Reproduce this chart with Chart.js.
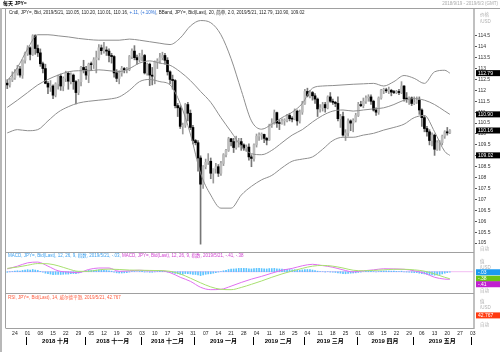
<!DOCTYPE html>
<html>
<head>
<meta charset="utf-8">
<script src="https://cdn.jsdelivr.net/npm/chart.js@4.4.0/dist/chart.umd.min.js"></script>
<style>
  html, body { margin: 0; padding: 0; background: #fff; }
  #wrap { width: 500px; height: 352px; }
</style>
</head>
<body>
<div id="wrap"><canvas id="c" width="500" height="352"></canvas></div>
<script>
// trading days on the axis (weekdays 2018/9/19 - 2019/6/3)
const days = [];
for (let d = new Date(Date.UTC(2018, 8, 19)); d <= new Date(Date.UTC(2019, 5, 3)); d.setUTCDate(d.getUTCDate() + 1)) {
    const w = d.getUTCDay();
    if (w !== 0 && w !== 6) days.push(d.toISOString().slice(0, 10));
}

// daily candles, one row per week
const open = [
    112.33,112.25,112.48,
    112.58,112.80,112.98,112.70,113.38,
    113.70,113.95,113.65,114.50,113.92,
    113.72,113.22,113.00,112.32,112.15,
    112.20,111.78,112.30,112.65,112.20,
    112.55,112.78,112.42,112.70,112.40,
    111.90,112.40,113.05,112.95,112.70,
    113.20,113.18,113.40,113.50,113.95,
    113.82,113.85,113.80,113.60,113.55,
    112.80,112.55,112.80,113.00,112.95,
    112.95,113.55,113.80,113.50,113.40,
    113.55,113.60,112.80,113.20,112.70,
    112.65,113.30,113.35,113.50,113.60,
    113.38,112.85,112.50,112.45,111.30,
    111.20,110.35,110.40,111.35,110.95,
    110.30,109.70,109.60,108.90,107.70,
    108.50,108.70,108.75,108.20,108.40,
    108.50,108.20,108.65,109.05,109.25,
    109.78,109.65,109.38,109.60,109.65,
    109.50,109.35,109.40,108.95,108.88,
    109.50,109.90,109.95,109.98,109.80,
    109.72,110.40,110.50,110.98,110.50,
    110.48,110.60,110.62,110.85,110.70,
    110.68,111.05,110.60,111.00,111.40,
    111.95,111.75,111.90,111.75,111.60,
    111.15,111.20,111.35,111.20,111.70,
    111.50,111.45,111.40,110.70,110.80,
    109.95,110.05,110.60,110.50,110.62,
    110.85,111.35,111.30,111.50,111.65,
    111.70,111.50,111.10,111.00,111.65,
    112.00,112.02,111.98,112.00,111.92,
    111.90,111.95,111.90,112.20,111.62,
    111.60,111.65,111.40,111.45,111.55,
    111.10,110.75,110.25,110.10,109.70,
    109.95,109.30,109.60,109.60,109.90,
    110.10,110.05
];
const high = [
    112.49,112.56,112.85,
    112.95,113.15,113.10,113.40,113.75,
    114.05,114.00,114.55,114.55,114.08,
    113.90,113.30,113.20,112.40,112.45,
    112.25,112.35,112.70,112.75,112.62,
    112.88,112.85,112.80,112.75,112.45,
    112.50,113.10,113.38,113.10,113.25,
    113.30,113.50,113.80,114.10,114.08,
    114.20,114.00,113.90,113.70,113.60,
    112.95,112.90,113.10,113.05,113.05,
    113.60,113.90,114.05,113.62,113.70,
    113.85,113.65,113.25,113.25,113.05,
    113.35,113.45,113.70,113.75,113.70,
    113.50,112.90,112.70,112.50,111.40,
    111.30,110.50,111.40,111.45,111.10,
    110.40,109.75,109.70,109.00,108.55,
    108.85,109.10,108.90,108.40,108.65,
    108.60,108.75,109.10,109.30,109.85,
    109.80,109.80,109.90,109.80,109.80,
    109.55,109.50,109.55,109.05,109.55,
    110.00,110.05,110.05,110.00,109.85,
    110.45,110.70,111.10,111.00,110.65,
    110.70,110.70,110.90,110.95,110.80,
    111.15,111.10,111.10,111.50,112.05,
    112.10,112.00,111.95,111.85,111.65,
    111.35,111.45,111.45,111.75,111.90,
    111.60,111.50,111.70,110.90,111.00,
    110.20,110.70,110.65,110.70,110.95,
    111.45,111.50,111.65,111.75,111.80,
    111.80,111.55,111.20,111.70,112.05,
    112.10,112.10,112.15,112.05,112.00,
    112.00,112.05,112.40,112.22,111.90,
    111.70,111.70,111.70,111.70,111.70,
    111.15,110.85,110.35,110.20,110.05,
    110.00,109.70,109.70,109.95,110.15,
    110.30,110.20
];
const low = [
    112.08,112.15,112.40,
    112.50,112.70,112.60,112.55,113.25,
    113.60,113.40,113.60,113.65,113.55,
    113.10,112.80,112.30,111.85,111.95,
    111.62,111.70,112.05,112.00,111.98,
    112.40,112.05,112.30,112.05,111.38,
    111.80,112.20,112.80,112.50,112.35,
    112.90,113.00,112.80,113.40,113.65,
    113.70,113.60,113.30,113.25,112.60,
    112.40,112.30,112.65,112.80,112.80,
    112.90,113.45,113.40,113.20,113.30,
    113.35,112.75,112.70,112.22,112.25,
    112.30,113.00,113.25,113.40,113.20,
    112.70,112.30,112.05,111.20,110.80,
    110.25,110.00,110.30,110.60,110.20,
    109.55,109.50,108.30,104.95,107.50,
    108.40,108.60,107.95,107.75,108.20,
    108.05,108.10,108.55,108.95,109.20,
    109.45,109.15,109.30,109.40,109.25,
    109.25,109.20,108.80,108.50,108.75,
    109.40,109.70,109.75,109.60,109.50,
    109.70,110.30,110.45,110.30,110.20,
    110.45,110.40,110.55,110.60,110.55,
    110.65,110.40,110.50,110.90,111.35,
    111.70,111.65,111.55,111.40,110.80,
    111.00,111.05,111.00,111.15,111.45,
    111.35,111.25,110.60,110.30,109.90,
    109.70,109.90,110.15,110.10,110.55,
    110.80,111.25,111.20,111.40,111.50,
    111.35,111.05,110.85,110.90,111.60,
    111.85,111.90,111.85,111.75,111.85,
    111.85,111.80,111.85,111.50,111.45,
    111.35,111.30,111.35,111.40,110.90,
    110.35,110.10,109.90,109.50,109.45,
    109.02,109.25,109.25,109.50,109.80,
    109.95,110.01
];
const close = [
    112.25,112.48,112.58,
    112.80,112.98,112.70,113.38,113.70,
    113.95,113.65,114.50,113.92,113.72,
    113.22,113.00,112.32,112.15,112.20,
    111.78,112.30,112.65,112.20,112.55,
    112.78,112.42,112.70,112.40,111.90,
    112.40,113.05,112.95,112.70,113.20,
    113.18,113.40,113.50,113.95,113.82,
    113.85,113.80,113.60,113.55,112.80,
    112.55,112.80,113.00,112.95,112.95,
    113.55,113.80,113.50,113.40,113.55,
    113.60,112.80,113.20,112.70,112.65,
    113.30,113.35,113.50,113.60,113.38,
    112.85,112.50,112.45,111.30,111.20,
    110.35,110.40,111.35,110.95,110.30,
    109.70,109.60,108.90,107.70,108.50,
    108.70,108.75,108.20,108.40,108.50,
    108.20,108.65,109.05,109.25,109.78,
    109.65,109.38,109.60,109.65,109.50,
    109.35,109.40,108.95,108.88,109.50,
    109.90,109.95,109.98,109.80,109.72,
    110.40,110.50,110.98,110.50,110.48,
    110.60,110.62,110.85,110.70,110.68,
    111.05,110.60,111.00,111.40,111.95,
    111.75,111.90,111.75,111.60,111.15,
    111.20,111.35,111.20,111.70,111.50,
    111.45,111.40,110.70,110.80,109.95,
    110.05,110.60,110.50,110.62,110.85,
    111.35,111.30,111.50,111.65,111.70,
    111.50,111.10,111.00,111.65,112.00,
    112.02,111.98,112.00,111.92,111.90,
    111.95,111.90,112.20,111.62,111.60,
    111.65,111.40,111.45,111.55,111.10,
    110.75,110.25,110.10,109.70,109.95,
    109.30,109.60,109.60,109.90,110.10,
    110.05,110.16
];

// Bollinger (20, 2.0) and MACD lines, read every 4 trading days
const sampleDates = [
    '2018-09-19','2018-09-25','2018-10-01','2018-10-05','2018-10-11','2018-10-17','2018-10-23','2018-10-29',
    '2018-11-02','2018-11-08','2018-11-14','2018-11-20','2018-11-26','2018-11-30','2018-12-06','2018-12-12',
    '2018-12-18','2018-12-24','2018-12-28','2019-01-03','2019-01-09','2019-01-15','2019-01-21','2019-01-25',
    '2019-01-31','2019-02-06','2019-02-12','2019-02-18','2019-02-22','2019-02-28','2019-03-06','2019-03-12',
    '2019-03-18','2019-03-22','2019-03-28','2019-04-03','2019-04-09','2019-04-15','2019-04-19','2019-04-25',
    '2019-05-01','2019-05-07','2019-05-13','2019-05-17','2019-05-21'
];
const bbUpper = [
    112.45,113.05,113.90,114.55,114.55,114.50,114.45,114.38,
    114.33,114.30,114.30,114.30,114.35,114.30,114.23,114.16,
    114.10,114.40,114.95,115.20,115.10,114.55,113.45,112.00,
    110.60,110.22,110.45,110.75,111.00,111.40,112.10,112.20,
    112.22,112.25,112.28,112.30,112.32,112.20,112.40,112.68,
    112.55,112.32,112.85,112.92,112.79
];
const bbMiddle = [
    111.22,111.55,111.90,112.25,112.50,112.70,112.85,112.90,
    112.90,112.94,112.90,112.86,113.00,113.25,113.35,113.25,
    113.15,112.85,112.45,111.95,111.45,110.75,110.10,109.45,
    109.10,109.05,109.25,109.60,109.95,110.20,110.55,110.85,
    111.05,111.10,111.05,111.10,111.15,111.20,111.35,111.55,
    111.62,111.55,111.35,111.05,110.90
];
const bbLower = [
    110.05,110.20,110.15,110.20,110.60,111.00,111.25,111.42,
    111.50,111.55,111.60,111.70,112.00,112.40,112.50,112.40,
    112.25,111.40,110.00,108.20,107.20,106.60,106.60,107.20,
    107.60,107.90,108.10,108.45,108.75,108.85,108.95,109.30,
    109.70,109.85,109.85,109.95,110.03,110.18,110.30,110.45,
    110.75,110.85,110.10,109.20,109.02
];
const macdLine = [
    0.15,0.30,0.48,0.52,0.30,0.05,-0.02,-0.05,
    0.12,0.20,0.20,0.02,0.05,0.08,0.05,0.06,
    -0.05,-0.30,-0.52,-0.84,-0.97,-0.95,-0.78,-0.58,
    -0.40,-0.25,-0.08,0.08,0.18,0.32,0.40,0.33,
    0.24,0.10,-0.01,0.05,0.10,0.16,0.15,0.13,
    0.05,-0.08,-0.30,-0.40,-0.41
];
const macdSignal = [
    0.18,0.25,0.35,0.44,0.43,0.32,0.15,0.02,
    0.02,0.10,0.14,0.12,0.09,0.08,0.07,0.06,
    0.02,-0.12,-0.35,-0.60,-0.82,-0.95,-0.97,-0.85,
    -0.68,-0.50,-0.30,-0.12,0.04,0.18,0.30,0.34,
    0.30,0.20,0.08,0.05,0.07,0.10,0.13,0.13,
    0.10,0.03,-0.12,-0.30,-0.38
];
// MACD histogram, daily
const macdHist = [
    -0.03,-0.01,0.01,
    0.03,0.05,0.04,0.07,0.09,
    0.11,0.09,0.12,0.09,0.07,
    0.02,-0.03,-0.08,-0.11,-0.13,
    -0.16,-0.15,-0.14,-0.15,-0.14,
    -0.13,-0.13,-0.11,-0.10,-0.11,
    -0.07,-0.02,0.02,0.03,0.07,
    0.07,0.08,0.09,0.10,0.09,
    0.08,0.07,0.05,0.03,-0.03,
    -0.06,-0.07,-0.07,-0.06,-0.05,
    -0.02,0.01,0.01,0.00,0.01,
    0.02,-0.02,-0.01,-0.03,-0.03,
    -0.01,0.01,0.02,0.02,0.02,
    -0.02,-0.04,-0.06,-0.09,-0.11,
    -0.14,-0.14,-0.10,-0.10,-0.12,
    -0.14,-0.15,-0.17,-0.21,-0.17,
    -0.14,-0.12,-0.11,-0.08,-0.05,
    -0.02,0.01,0.05,0.08,0.12,
    0.14,0.15,0.16,0.18,0.18,
    0.18,0.18,0.16,0.15,0.17,
    0.18,0.18,0.17,0.16,0.15,
    0.17,0.17,0.18,0.16,0.15,
    0.14,0.13,0.13,0.12,0.10,
    0.11,0.08,0.08,0.10,0.12,
    0.12,0.11,0.09,0.06,0.03,
    0.01,0.00,-0.02,0.00,-0.02,
    -0.03,-0.04,-0.07,-0.08,-0.11,
    -0.11,-0.09,-0.08,-0.07,-0.06,
    -0.04,-0.02,0.00,0.02,0.03,
    0.03,0.01,-0.01,0.01,0.03,
    0.04,0.04,0.04,0.03,0.03,
    0.02,0.01,0.03,-0.01,-0.02,
    -0.02,-0.04,-0.05,-0.05,-0.08,
    -0.10,-0.12,-0.14,-0.17,-0.17,
    -0.19,-0.17,-0.15,-0.12,-0.08,
    -0.05,-0.03
];
// RSI 14, daily
const rsi = [
    62,65,66,
    68,69,65,71,74,
    76,71,78,69,66,
    58,55,46,44,45,
    40,47,51,46,50,
    53,48,52,48,42,
    49,56,55,52,57,
    57,59,60,64,62,
    62,61,58,57,48,
    46,49,52,51,51,
    57,60,56,55,56,
    57,48,52,47,47,
    54,54,56,57,54,
    48,45,44,35,34,
    29,30,41,38,33,
    29,29,25,21,30,
    32,33,30,32,33,
    31,36,40,42,48,
    47,44,47,47,46,
    45,45,41,40,47,
    51,52,52,50,49,
    56,57,61,56,56,
    57,57,60,58,58,
    62,56,60,64,69,
    65,67,64,61,54,
    55,57,54,61,58,
    57,56,46,48,38,
    40,48,47,49,52,
    58,57,60,61,62,
    58,52,50,58,63,
    63,62,63,61,61,
    62,61,65,55,55,
    56,52,53,55,48,
    43,37,33,29,33,
    27,32,32,37,42,
    41,42.767
];
const rsiLevels = [70, 30];
const priceTicks = [105,105.5,106,106.5,107,107.5,108,108.5,109,109.5,110,110.5,111,111.5,112,112.5,113,113.5,114,114.5];
const monthLabels = [
    ['2018-10', '2018 十月'], ['2018-11', '2018 十一月'], ['2018-12', '2018 十二月'],
    ['2019-01', '2019 一月'], ['2019-02', '2019 二月'], ['2019-03', '2019 三月'],
    ['2019-04', '2019 四月'], ['2019-05', '2019 五月'], ['2019-06', '']
];

const FF = '"Liberation Sans", "Noto Sans CJK SC", sans-serif';
Chart.defaults.font.family = FF;

function pts(values) {
    return sampleDates.map((d, k) => ({ x: d, y: values[k] }));
}
function flatLine(v) {
    return [{ x: days[0], y: v }, { x: days[days.length - 1], y: v }];
}
function short(v) {
    return v.toFixed(2).replace(/^(-?)0\./, '$1.');
}

const isUp = (i) => close[i] >= open[i];

const decor = {
    id: 'decor',
    afterDraw(chart) {
        const ctx = chart.ctx;
        const a = chart.chartArea;
        const ys = chart.scales.y, ms = chart.scales.m, rs = chart.scales.r, xs = chart.scales.x;
        ctx.save();
        ctx.textBaseline = 'middle';

        // frame
        ctx.strokeStyle = '#a0a0a0';
        ctx.lineWidth = 1;
        ctx.beginPath();
        ctx.moveTo(0, 8.5); ctx.lineTo(500, 8.5);
        ctx.moveTo(a.left - 0.5, 8.5); ctx.lineTo(a.left - 0.5, a.bottom);
        ctx.moveTo(a.left - 0.5, a.bottom + 0.5); ctx.lineTo(a.right, a.bottom + 0.5);
        ctx.moveTo(a.left - 0.5, ms.top + 0.5); ctx.lineTo(a.right, ms.top + 0.5);
        ctx.moveTo(a.left - 0.5, rs.top + 0.5); ctx.lineTo(a.right, rs.top + 0.5);
        ctx.stroke();
        ctx.strokeStyle = '#b8b8b8';
        ctx.lineWidth = 2;
        ctx.beginPath();
        ctx.moveTo(1, 8); ctx.lineTo(1, 352);
        ctx.stroke();

        // header
        ctx.font = 'bold 5px ' + FF;
        ctx.fillStyle = '#000';
        ctx.textAlign = 'left';
        ctx.fillText('每天 JPY=', 3, 4);
        ctx.font = '4.5px ' + FF;
        ctx.fillStyle = '#aaa';
        ctx.textAlign = 'right';
        ctx.fillText('2018/9/19 - 2019/6/3 (GMT)', 498, 4);

        // panel legends
        ctx.textAlign = 'left';
        const segs = (x, y, parts) => {
            for (const [t, c] of parts) {
                ctx.fillStyle = c;
                ctx.fillText(t, x, y);
                x += ctx.measureText(t).width;
            }
        };
        const n = close.length - 1;
        const chg = close[n] - close[n - 1];
        ctx.font = '4.5px ' + FF;
        segs(9, 13, [
            ['Cndl, JPY=, Bid, 2019/5/21, ' + open[n].toFixed(2) + ', ' + high[n].toFixed(2) + ', ' +
                low[n].toFixed(2) + ', ' + close[n].toFixed(2) + ', ', '#222'],
            ['+' + short(chg) + ', (+' + short(chg / close[n - 1] * 100) + '%)', '#2b6fd6'],
            [', BBand, JPY=, Bid(Last), 20, 简单, 2.0, 2019/5/21, ' + bbUpper[bbUpper.length - 1].toFixed(2) + ', ' +
                bbMiddle[bbMiddle.length - 1].toFixed(2) + ', ' + bbLower[bbLower.length - 1].toFixed(2), '#222']
        ]);
        segs(8, ms.top + 4, [
            ['MACD, JPY=, Bid(Last), 12, 26, 9, 指数, 2019/5/21, ' + short(macdHist[n]) + ', ', '#3aa0f0'],
            ['MACD, JPY=, Bid(Last), 12, 26, 9, 指数, 2019/5/21, ' + short(macdLine[macdLine.length - 1]) + ', ' +
                short(macdSignal[macdSignal.length - 1]), '#d040d0']
        ]);
        segs(8, rs.top + 5, [
            ['RSI, JPY=, Bid(Last), 14, 威尔德平滑, 2019/5/21, ' + rsi[n], '#ff5a3c']
        ]);

        // right column captions
        ctx.fillStyle = '#b0b0b0';
        const cap = (t, y) => ctx.fillText(t, 480, y);
        cap('价格', ys.top + 6); cap('/USD', ys.top + 13); cap('自动', ys.bottom - 3);
        cap('值', ms.top + 10); cap('/USD', ms.top + 16); cap('自动', ms.bottom - 2);
        cap('值', rs.top + 9); cap('/USD', rs.top + 15); cap('自动', rs.bottom - 3);

        // last value boxes
        const boxes = (scale, items) => {
            const list = items.map(it => ({ ...it, py: scale.getPixelForValue(it.v) }))
                .sort((p, q) => p.py - q.py);
            for (let k = 1; k < list.length; k++) {
                list[k].py = Math.max(list[k].py, list[k - 1].py + 5.5);
            }
            for (const it of list) {
                ctx.fillStyle = it.bg;
                ctx.fillRect(476, it.py - 3, 24, 6);
                ctx.fillStyle = '#fff';
                ctx.fillText(it.t, 478, it.py + 0.3);
            }
        };
        ctx.font = '5px ' + FF;
        boxes(ys, [
            { v: bbUpper[bbUpper.length - 1], t: bbUpper[bbUpper.length - 1].toFixed(2), bg: '#000' },
            { v: bbMiddle[bbMiddle.length - 1], t: bbMiddle[bbMiddle.length - 1].toFixed(2), bg: '#000' },
            { v: close[n], t: close[n].toFixed(2), bg: '#000' },
            { v: bbLower[bbLower.length - 1], t: bbLower[bbLower.length - 1].toFixed(2), bg: '#000' }
        ]);
        boxes(ms, [
            { v: macdHist[n], t: short(macdHist[n]), bg: '#1a9af0' },
            { v: macdSignal[macdSignal.length - 1], t: short(macdSignal[macdSignal.length - 1]), bg: '#6cc417' },
            { v: macdLine[macdLine.length - 1] - 0.001, t: short(macdLine[macdLine.length - 1]), bg: '#c020d0' }
        ]);
        boxes(rs, [{ v: rsi[n], t: String(rsi[n]), bg: '#ff3a10' }]);

        // month row
        const half = (xs.getPixelForValue(1) - xs.getPixelForValue(0)) / 2;
        ctx.strokeStyle = '#000';
        ctx.lineWidth = 1;
        ctx.font = 'bold 6px ' + FF;
        ctx.fillStyle = '#000';
        ctx.textAlign = 'center';
        for (const [ym, label] of monthLabels) {
            const idx = days.map((d, i) => d.startsWith(ym) ? i : -1).filter(i => i >= 0);
            if (!idx.length) continue;
            const x0 = Math.round(xs.getPixelForValue(idx[0]) - half) + 0.5;
            ctx.beginPath();
            ctx.moveTo(x0, 337); ctx.lineTo(x0, 345);
            ctx.stroke();
            if (label) {
                const cx = (xs.getPixelForValue(idx[0]) + xs.getPixelForValue(idx[idx.length - 1])) / 2;
                ctx.fillText(label, cx, 341);
            }
        }
        ctx.restore();
    }
};

const candleRange = close.map((c, i) => [low[i], high[i]]);
const candleBody = close.map((c, i) => [open[i], close[i]]);

new Chart(document.getElementById('c'), {
    data: {
        labels: days,
        datasets: [
            { type: 'line', data: pts(bbUpper), yAxisID: 'y', borderColor: '#8e8e8e', borderWidth: 1,
              pointRadius: 0, cubicInterpolationMode: 'monotone', order: 0 },
            { type: 'line', data: pts(bbMiddle), yAxisID: 'y', borderColor: '#8e8e8e', borderWidth: 1,
              pointRadius: 0, cubicInterpolationMode: 'monotone', order: 0 },
            { type: 'line', data: pts(bbLower), yAxisID: 'y', borderColor: '#8e8e8e', borderWidth: 1,
              pointRadius: 0, cubicInterpolationMode: 'monotone', order: 0 },
            { type: 'bar', data: candleRange, yAxisID: 'y', grouped: false, barThickness: 1,
              backgroundColor: (c) => isUp(c.dataIndex) ? '#9a9a9a' : '#777', order: 3 },
            { type: 'bar', data: candleBody, yAxisID: 'y', grouped: false, barThickness: 2, minBarLength: 1,
              backgroundColor: (c) => isUp(c.dataIndex) ? '#bdbdbd' : '#000', order: 2 },

            { type: 'line', data: flatLine(0), yAxisID: 'm', borderColor: '#f2bdf2', borderWidth: 1,
              pointRadius: 0, order: 5 },
            { type: 'bar', data: macdHist, yAxisID: 'm', grouped: false, barThickness: 1,
              backgroundColor: '#5cc4ff', order: 4 },
            { type: 'line', data: pts(macdSignal), yAxisID: 'm', borderColor: '#a8e070', borderWidth: 1,
              pointRadius: 0, cubicInterpolationMode: 'monotone', order: 1 },
            { type: 'line', data: pts(macdLine), yAxisID: 'm', borderColor: '#e070f0', borderWidth: 1,
              pointRadius: 0, cubicInterpolationMode: 'monotone', order: 1 },

            { type: 'line', data: flatLine(rsiLevels[0]), yAxisID: 'r', borderColor: '#ffb9aa', borderWidth: 2,
              pointRadius: 0, order: 5 },
            { type: 'line', data: flatLine(rsiLevels[1]), yAxisID: 'r', borderColor: '#ffb9aa', borderWidth: 2,
              pointRadius: 0, order: 5 },
            { type: 'line', data: rsi, yAxisID: 'r', borderColor: '#ff8f78', borderWidth: 1,
              pointRadius: 0, order: 1 }
        ]
    },
    options: {
        responsive: false,
        animation: false,
        events: [],
        layout: { padding: { left: 6, right: 0, top: 9, bottom: 0 } },
        plugins: { legend: { display: false }, tooltip: { enabled: false } },
        scales: {
            x: {
                type: 'category',
                offset: true,
                grid: { display: false, drawTicks: false },
                border: { display: false },
                ticks: {
                    autoSkip: false,
                    maxRotation: 0,
                    padding: 3,
                    color: '#222',
                    font: { size: 5 },
                    callback: (v, i) => new Date(days[i] + 'T00:00:00Z').getUTCDay() === 1 ? days[i].slice(8) : ''
                },
                afterFit: (s) => { s.height = 24; }
            },
            y: {
                position: 'right',
                stack: 'panels',
                stackWeight: 243,
                min: 104.59,
                max: 115.73,
                afterBuildTicks: (s) => { s.ticks = priceTicks.map(v => ({ value: v })); },
                ticks: { autoSkip: false, padding: 1, color: '#333', font: { size: 5 }, callback: (v) => String(v) },
                grid: { drawOnChartArea: false, tickLength: 3, color: '#555' },
                border: { color: '#c0c0c0', width: 2 },
                afterFit: (s) => { s.width = 26; }
            },
            m: {
                position: 'right',
                stack: 'panels',
                stackWeight: 41,
                min: -1.15,
                max: 1.065,
                ticks: { display: false },
                grid: { display: false },
                border: { color: '#c0c0c0', width: 2 },
                afterFit: (s) => { s.width = 26; }
            },
            r: {
                position: 'right',
                stack: 'panels',
                stackWeight: 35,
                min: -13,
                max: 142,
                ticks: { display: false },
                grid: { display: false },
                border: { color: '#c0c0c0', width: 2 },
                afterFit: (s) => { s.width = 26; }
            }
        }
    },
    plugins: [decor]
});
</script>
</body>
</html>
